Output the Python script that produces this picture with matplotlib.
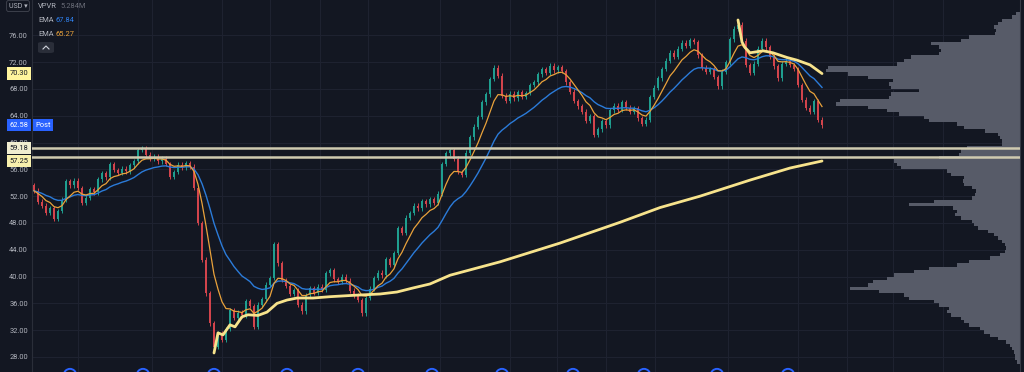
import numpy as np
import pandas as pd
import matplotlib
matplotlib.use("Agg")
import matplotlib.pyplot as plt
from matplotlib.patches import FancyBboxPatch
from matplotlib.lines import Line2D

plt.rcParams['font.family'] = ['Roboto', 'DejaVu Sans']

# closes, one candle per ~3.5 sessions
close = [52.8, 51.2, 50.6, 49.5, 50.2, 48.6, 49.8, 51.5, 54.2, 53.6,
         54.3, 53.2, 51.0, 51.8, 53.0, 52.6, 54.5, 55.4, 54.8, 56.8,
         55.9, 55.5, 56.1, 55.7, 56.6, 57.2, 58.9, 59.1, 58.2, 57.6,
         57.9, 57.2, 57.6, 56.8, 54.9, 55.6, 56.7, 56.3, 56.9, 56.4,
         53.2, 48.0, 42.5, 37.5, 33.0, 29.5, 31.5, 30.6, 32.2, 35.0,
         33.8, 34.6, 34.2, 36.3, 35.6, 32.5, 35.8, 36.6, 38.8, 39.8,
         44.8, 42.0, 39.5, 38.6, 37.4, 38.0, 35.8, 34.8, 37.2, 38.3,
         37.6, 38.5, 38.0, 40.5, 41.0, 39.6, 39.2, 40.0, 39.4, 37.9,
         37.2, 36.5, 34.5, 36.8, 38.2, 39.8, 40.6, 40.2, 42.6, 41.8,
         43.5, 47.2, 46.5, 48.8, 49.5, 50.6, 50.2, 51.3, 50.8, 51.6,
         51.0, 52.4, 56.8, 58.4, 58.9, 57.6, 55.6, 55.2, 58.5, 60.8,
         62.4, 63.8, 66.0, 67.2, 69.5, 71.2, 70.0, 67.0, 66.2, 67.3,
         66.6, 67.5, 66.8, 67.4, 68.6, 69.0, 70.2, 71.0, 70.4, 71.5,
         70.8, 71.3, 70.7, 69.0, 67.6, 66.2, 65.4, 64.6, 63.2, 63.9,
         61.2, 62.0, 63.2, 62.6, 64.8, 65.5, 64.9, 66.0, 65.2, 64.6,
         65.1, 63.6, 62.8, 63.4, 66.8, 68.2, 69.6, 71.0, 72.2, 73.4,
         72.8, 74.0, 74.9, 74.4, 75.3, 75.0, 73.0, 71.2, 70.6, 71.0,
         69.8, 68.4, 70.6, 72.0, 75.4, 77.0, 77.6, 75.2, 71.6, 70.4,
         71.8, 74.0, 75.2, 74.2, 72.8, 71.4, 69.6, 71.8, 72.2, 71.6,
         71.0, 68.6, 66.4, 65.2, 64.6, 66.2, 63.4, 62.58]
first_open = 53.6

# anchored VWAPs (candle index, price)
vwap_low_idx = [45, 46, 47.25, 49, 50.25, 52, 53.5, 56, 58.25, 60.75, 63.25, 65.75, 69.75,
                74, 79.75, 86.5, 90.75, 94.75, 99, 104, 116.5, 131.5, 146.5, 156.5, 166.5,
                179, 189, 197]
vwap_low_val = [28.6, 31.6, 31.3, 32.8, 32.5, 34.0, 34.3, 34.2, 34.7, 36.0, 36.5, 36.8, 36.8,
                37.0, 37.2, 37.4, 37.7, 38.3, 38.9, 40.2, 42.2, 45.0, 48.1, 50.3, 52.0,
                54.4, 56.2, 57.25]
vwap_high_idx = [176, 177, 177.75, 179, 182.25, 184.75, 188.25, 190.75, 194, 197]
vwap_high_val = [78.3, 75.0, 74.2, 73.4, 73.7, 73.4, 72.7, 72.3, 71.6, 70.3]

# horizontal levels
levels = [59.18, 57.85]

# volume profile, 0.5 rows from 27.0
vp_bottom = 27.0
vp_row = 0.5
vp = [3, 5, 5, 6, 8, 10, 14, 22, 30, 36,
      40, 50, 55, 58, 68, 72, 70, 80, 85, 110,
      115, 140, 168, 150, 145, 132, 125, 105, 90, 62,
      50, 30, 20, 15, 14, 15, 18, 22, 26, 32,
      42, 46, 48, 58, 64, 62, 66, 110, 85, 48,
      45, 44, 48, 55, 56, 55, 68, 72, 118, 122,
      125, 80, 60, 58, 52, 18, 18, 20, 22, 35,
      55, 62, 90, 95, 120, 132, 150, 182, 178, 130,
      128, 100, 128, 130, 126, 150, 170, 192, 190, 122,
      115, 108, 80, 78, 80, 88, 58, 50, 25, 24,
      26, 22, 18, 8, 4]

earnings_idx = [9, 27.25, 45, 63.25, 81, 99.5, 117, 134.75, 152.5, 170.75, 188.5]
time_grid = [11, 29.5, 47, 59, 71.5, 83.5, 101.5, 119, 130.75, 143, 155.25, 173.5,
             191, 203.25, 214.75, 227.25]

bg = '#131722'
grid_c = '#1e2230'
up_c = '#1f9e8f'
dn_c = '#d2444c'

fig = plt.figure(figsize=(10.24, 3.72), dpi=100, facecolor=bg)
ax = fig.add_axes([32 / 1024, 0, 988 / 1024, 1])
ax.set_facecolor(bg)

close = np.array(close)
x = np.arange(len(close))
opens = np.r_[first_open, close[:-1]]
cols = np.where(close >= opens, up_c, dn_c)
lo = np.minimum(opens, close)
hi = np.maximum(opens, close)
ax.vlines(x, lo - 0.35, hi + 0.35, colors=cols, lw=0.7, zorder=3)
ax.bar(x, np.maximum(hi - lo, 0.15), bottom=lo, width=0.62, color=cols, zorder=3)

ema_fast = pd.Series(close).ewm(span=7, adjust=False).mean()
ema_slow = pd.Series(close).ewm(span=18, adjust=False).mean()
ax.plot(x, ema_slow, color='#2b7bd9', lw=1.0, zorder=4)
ax.plot(x, ema_fast, color='#e9a23b', lw=0.9, zorder=4)

ax.plot(vwap_low_idx, vwap_low_val, color='#f7e38c', lw=2.0, zorder=5, solid_capstyle='round')
ax.plot(vwap_high_idx, vwap_high_val, color='#f7e38c', lw=2.0, zorder=5, solid_capstyle='round')

for lv in levels:
    ax.axhline(lv, color='#cfcab0', lw=1.8, zorder=6)

# volume profile hugging right edge
xr = 246.5
vp = np.array(vp, dtype=float)
w = vp * (48.5 / vp.max())
rows = vp_bottom + vp_row * np.arange(len(vp))
ax.barh(rows + vp_row / 2, w, left=xr - w, height=vp_row, color='#575b68',
        edgecolor='none', zorder=2)

ax.scatter(earnings_idx, [25.3] * len(earnings_idx), s=80, facecolors='none',
           edgecolors='#2962ff', lw=1.4, clip_on=False, zorder=7)

ax.set_xlim(-0.5, xr)
ax.set_ylim(25.76, 81.28)
ax.set_yticks(np.arange(28, 77, 4))
ax.set_yticklabels([f'{v:.2f}' for v in np.arange(28, 77, 4)])
ax.set_xticks(time_grid)
ax.set_xticklabels([])
ax.tick_params(axis='both', length=0, pad=3, labelsize=5.4, labelcolor='#b2b5be')
ax.grid(color=grid_c, lw=0.8, zorder=0)
for s in ['top', 'bottom']:
    ax.spines[s].set_visible(False)
ax.spines['left'].set_color('#2a2e39')
ax.spines['right'].set_color('#363a45')

# price tags on the scale
yt = ax.get_yaxis_transform()
tx = (19 - 32) / 988
tags = [(70.30, '#fff59d', '#131722'), (62.58, '#2962ff', 'white'),
        (59.18, '#f0edd0', '#131722'), (57.25, '#f8f0ad', '#131722')]
for val, fc, tc in tags:
    ax.text(tx, val, f'{val:.2f}', transform=yt, ha='center', va='center', fontsize=5.4,
            color=tc, clip_on=False, zorder=10,
            bbox=dict(boxstyle='square,pad=0.35', fc=fc, ec='none'))
ax.text((43 - 32) / 988, 62.58, 'Post', transform=yt, ha='center', va='center',
        fontsize=5.4, color='white', zorder=10,
        bbox=dict(boxstyle='square,pad=0.35', fc='#2962ff', ec='none'))

# legend block
def ft(px, py, s, **kw):
    fig.text(px / 1024, 1 - py / 372, s, va='center', **kw)

fig.text(18 / 1024, 1 - 6 / 372, 'USD ▾', ha='center', va='center', fontsize=5.0,
         color='#b2b5be', bbox=dict(boxstyle='round,pad=0.3', fc=bg, ec='#434651', lw=0.6))
ft(38, 6, 'VPVR', fontsize=5.4, color='#b2b5be')
ft(60, 6, '5.284M', fontsize=5.4, color='#6a6d78')
ft(38, 20, 'EMA', fontsize=5.4, color='#b2b5be')
ft(56, 20, '67.84', fontsize=5.4, color='#2f80ed')
ft(38, 34, 'EMA', fontsize=5.4, color='#b2b5be')
ft(56, 34, '65.27', fontsize=5.4, color='#e9a23b')
fig.patches.append(FancyBboxPatch((38 / 1024, 1 - 53 / 372), 16 / 1024, 11 / 372,
                                  boxstyle='round,pad=0,rounding_size=0.004',
                                  fc='#2a2e39', ec='none', transform=fig.transFigure))
fig.lines.append(Line2D([43 / 1024, 46 / 1024, 49 / 1024],
                        [1 - 49 / 372, 1 - 46 / 372, 1 - 49 / 372],
                        color='#d1d4dc', lw=0.8, transform=fig.transFigure))

fig.savefig('out.png', dpi=100, facecolor=bg)
